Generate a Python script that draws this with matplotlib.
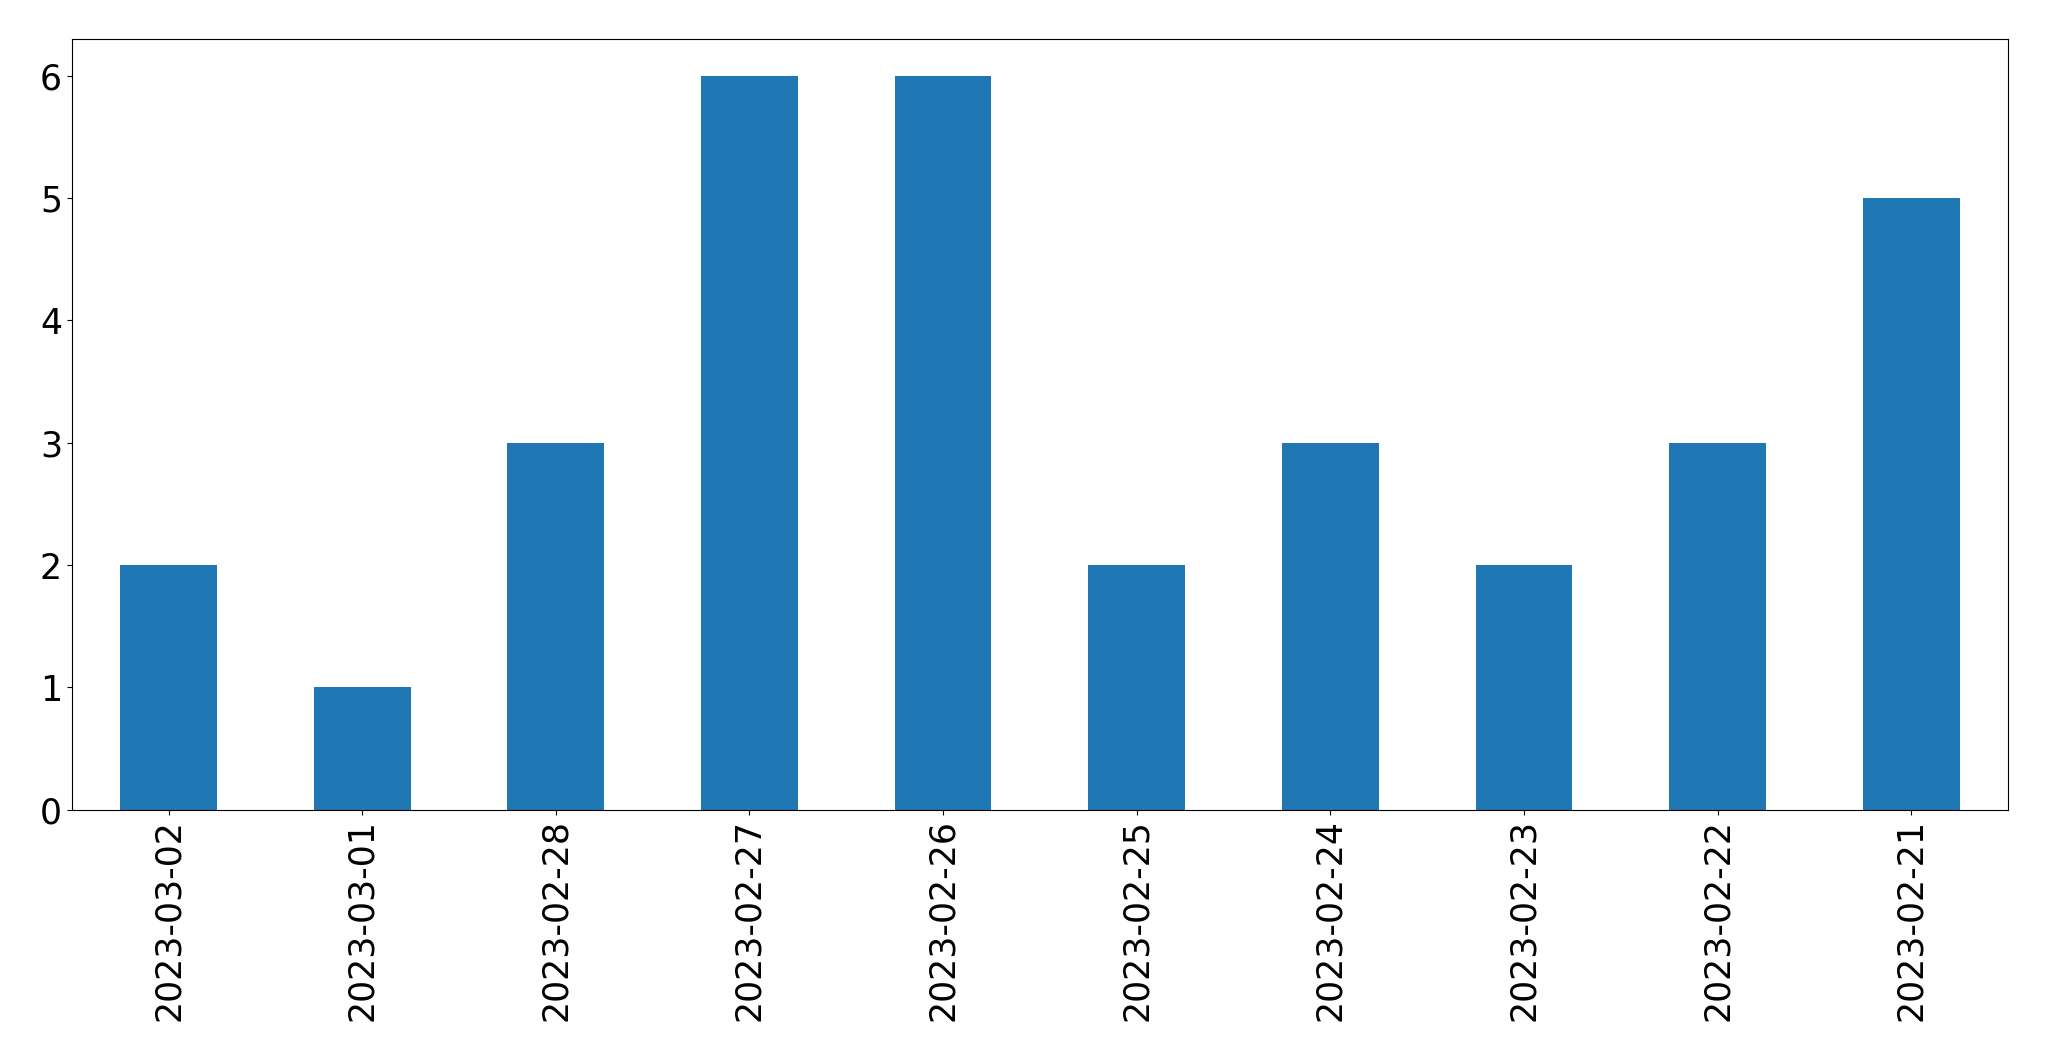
import pandas as pd
from matplotlib import pyplot as plt

fechas = ['2023-03-02', '2023-03-01', '2023-02-28', '2023-02-27', '2023-02-26',
          '2023-02-25', '2023-02-24', '2023-02-23', '2023-02-22', '2023-02-21']
conteos = [2, 1, 3, 6, 6, 2, 3, 2, 3, 5]

serie = pd.Series(conteos, index=fechas)

fig, ax = plt.subplots(figsize=(20.49, 10.61), dpi=100)
serie.plot(kind='bar', ax=ax, color='#1f77b4')
ax.tick_params(axis='both', labelsize=25)
plt.subplots_adjust(left=0.035, right=0.98, top=0.963, bottom=0.237)
plt.savefig('out.png', dpi=100)
